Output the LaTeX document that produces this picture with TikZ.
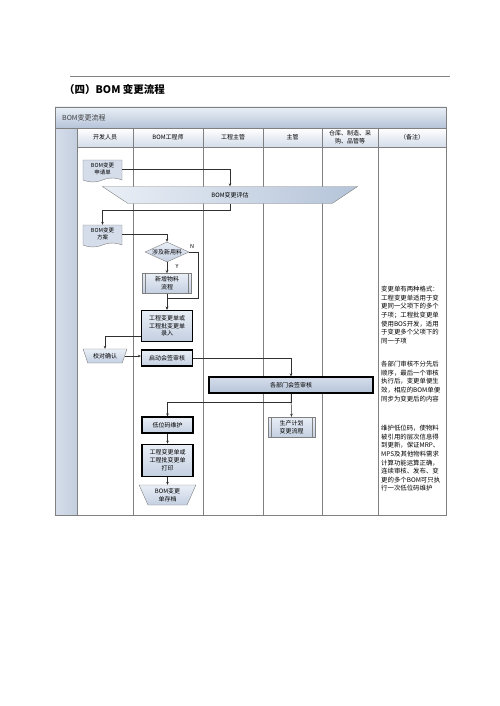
\documentclass[tikz,border=0pt]{standalone}
\usepackage{fontspec}
\setmainfont{Noto Sans CJK SC}
\usetikzlibrary{shapes.geometric, shapes.symbols, arrows.meta, positioning}
\definecolor{gridgray}{HTML}{808080}
\definecolor{barblue}{HTML}{B5C4D9}
\definecolor{barlight}{HTML}{EAEFF6}
\definecolor{boxblue}{HTML}{C3CFE1}
\definecolor{docblue}{HTML}{D5DDEA}
\definecolor{linegray}{HTML}{303030}
\definecolor{stripblue}{HTML}{C4CFDF}

\begin{document}
\begin{tikzpicture}[x=1pt, y=-1pt,
    box/.style={rectangle, minimum width=51pt, align=center, draw=black, line width=1.2pt, top color=barlight, bottom color=boxblue, font=\fontsize{6}{7.8}\selectfont, inner sep=1pt},
    pbox/.style={rectangle, minimum width=49pt, minimum height=20pt, align=center, draw=gridgray, top color=barlight, bottom color=boxblue, font=\fontsize{6}{7.8}\selectfont, inner sep=1pt,
        path picture={\draw [gridgray] ([xshift=3pt]path picture bounding box.north west) -- ([xshift=3pt]path picture bounding box.south west)
            ([xshift=-3pt]path picture bounding box.north east) -- ([xshift=-3pt]path picture bounding box.south east);}},
    doc/.style={tape, tape bend top=none, tape bend height=4pt, minimum width=39pt, minimum height=22pt, align=center, draw=gridgray, fill=docblue, font=\fontsize{5.5}{7}\selectfont, inner sep=1pt},
    manop/.style={trapezium, shape border rotate=180, trapezium stretches=true, align=center, draw=gridgray, top color=barlight, bottom color=boxblue, font=\fontsize{6}{7.8}\selectfont, inner sep=1pt},
    arrow/.style={->, >={Stealth[length=3pt,width=2.6pt]}, draw=linegray, line width=0.5pt},
    note/.style={anchor=north west, align=left, inner sep=0pt, font=\fontsize{6.4}{8.6}\selectfont},
    head/.style={align=center, font=\fontsize{6}{7.6}\selectfont}
]
\useasboundingbox (0,0) rectangle (499,706);

% heading
\draw [gridgray, line width=0.8pt] (70,76) -- (450,76);
\node (title) [anchor=west, inner sep=0pt, font=\fontsize{10.5}{12}\selectfont\bfseries] at (64,89) {（四）BOM 变更流程};

% table frame
\draw [gridgray, top color=barlight, bottom color=barblue] (55,107) rectangle (446,128);
\draw [gridgray, left color=docblue, right color=stripblue] (55,128) rectangle (77,515);
\draw [gridgray, top color=white, bottom color=docblue] (77,128) rectangle (446,147);
\draw [gridgray] (55,107) rectangle (446,515);
\draw [gridgray] (133,128) -- (133,515) (203,128) -- (203,515) (263,128) -- (263,515)
    (322,128) -- (322,515) (378,128) -- (378,515);
\node (tabname) [anchor=west, inner sep=0pt, text=black!75, font=\fontsize{7}{8}\selectfont] at (62,117.5) {BOM变更流程};

\node (h1) [head] at (105,137.5) {开发人员};
\node (h2) [head] at (168,137.5) {BOM工程师};
\node (h3) [head] at (233,137.5) {工程主管};
\node (h4) [head] at (292.5,137.5) {主管};
\node (h5) [head] at (350,137.5) {仓库、制造、采\\购、品管等};
\node (h6) [head] at (412,137.5) {（备注）};

% flow
\node (req) [doc] at (102.5,169) {BOM变更\\申请单};
\node (eval) [manop, minimum width=256pt, minimum height=17pt, trapezium angle=57, left color=barlight, right color=barblue] at (230,195) {BOM变更评估};
\node (plan) [doc] at (102.5,234) {BOM变更\\方案};
\node (dec) [diamond, aspect=2.2, minimum width=44pt, minimum height=20pt, inner sep=0pt, draw=gridgray, top color=barlight, bottom color=boxblue, font=\fontsize{6}{7}\selectfont] at (167,252) {涉及新用料};
\node (nlab) [font=\fontsize{5.5}{6}\selectfont, inner sep=0pt] at (192,246) {N};
\node (ylab) [font=\fontsize{5.5}{6}\selectfont, inner sep=0pt] at (177,266) {Y};
\node (newmat) [pbox, below=11pt of dec] {新增物料\\流程};
\node (entry) [box, minimum height=31pt, below=16pt of newmat] {工程变更单或\\工程批变更单\\录入};
\node (check) [manop, minimum width=44pt, minimum height=14pt, trapezium angle=65] at (105,356) {校对确认};
\node (start) [box, minimum height=16pt] at (167,358) {启动会签审核};
\node (dept) [box, minimum width=164pt, minimum height=16pt, top color=docblue, bottom color=barblue] at (291,385) {各部门会签审核};
\node (prod) [pbox, minimum width=47pt] at (291.5,427) {生产计划\\变更流程};
\node (low) [box, minimum height=16pt] at (167.5,425) {低位码维护};
\node (print) [box, minimum height=32pt, below=10pt of low] {工程变更单或\\工程批变更单\\打印};
\node (arch) [manop, minimum width=57pt, minimum height=20pt, trapezium angle=68, below=8pt of print] {BOM变更\\单存档};

\coordinate (nturn) at (198,298);
\draw [arrow] (req.east) -| (eval.north);
\draw [arrow] (eval.south) -- ++(0,7) -| (plan.north);
\draw [arrow] (plan.east) -| (dec.north);
\draw [arrow] (dec.south) -- (newmat.north);
\draw [arrow] (dec.east) -| (nturn) -| (entry.north);
\draw [arrow] (newmat.south) -- (entry.north);
\draw [arrow] ([yshift=6pt]entry.south west) -| (check.north);
\draw [arrow] (check.east) -- (check.east -| start.west);
\draw [arrow] (start.east) -| (dept.north);
\draw [arrow] (dept.south) -- (prod.north);
\draw [arrow] (dept.south) -- ++(0,9) -| (low.north);
\draw [arrow] (low.south) -- (print.north);
\draw [arrow] (print.south) -- (arch.north);

% notes
\node (note1) [note] at (381,286) {变更单有两种格式：\\工程变更单适用于变\\更同一父项下的多个\\子项；工程批变更单\\使用BOS开发，适用\\于变更多个父项下的\\同一子项};
\node (note2) [note] at (381,361) {各部门审核不分先后\\顺序，最后一个审核\\执行后，变更单便生\\效，相应的BOM单便\\同步为变更后的内容};
\node (note3) [note] at (381,425) {维护低位码，使物料\\被引用的层次信息得\\到更新，保证MRP、\\MPS及其他物料需求\\计算功能运算正确，\\连续审核、发布、变\\更的多个BOM可只执\\行一次低位码维护};
\end{tikzpicture}
\end{document}
